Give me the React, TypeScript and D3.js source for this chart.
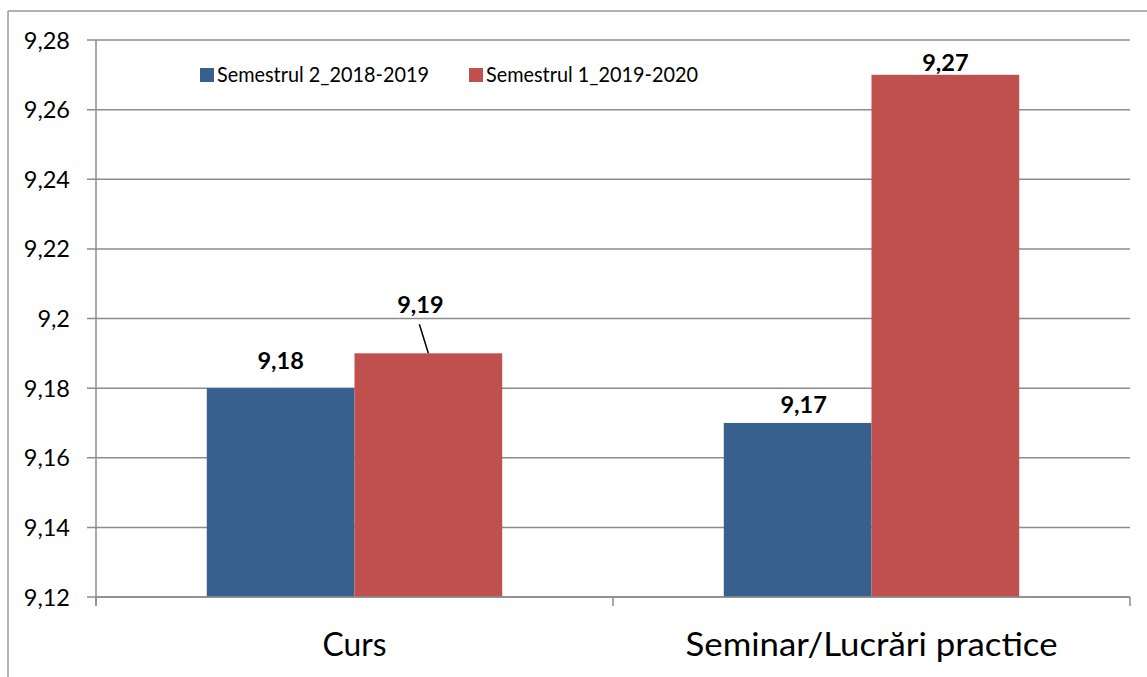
import React from "react";
import * as d3 from "d3";

const categories = ["Curs", "Seminar/Lucrări practice"];
const seriesNames = ["Semestrul 2_2018-2019", "Semestrul 1_2019-2020"];
const series1 = [9.18, 9.17];
const series2 = [9.19, 9.27];
const yTicks = [9.12, 9.14, 9.16, 9.18, 9.2, 9.22, 9.24, 9.26, 9.28];
const colors = ["#37608F", "#C0504D"];

const W = 1147;
const H = 677;
const left = 96;
const right = 1130;
const top = 40;
const bottom = 597;
const FONT = "Lato, 'Noto Sans', sans-serif";

const fmt = (v: number) => String(+v.toFixed(2)).replace(".", ",");

export default function App() {
  const y = d3.scaleLinear().domain([9.12, 9.28]).range([bottom, top]);
  const x0 = d3.scaleBand<string>().domain(categories).range([left, right]).paddingInner(0).paddingOuter(0);
  const bw = x0.bandwidth();
  const barW = bw / 3.5;
  const x1 = d3
    .scaleBand<number>()
    .domain([0, 1])
    .range([bw / 2 - barW, bw / 2 + barW]);
  const values = [series1, series2];
  // label layout offsets (pixels above bar top), per series/category
  const labelGap = [
    [19, 10],
    [40, 4],
  ];

  return (
    <svg
      width={W}
      height={H}
      style={{ position: "absolute", left: 0, top: 0, background: "#fff" }}
      fontFamily={FONT}
    >
      <rect x={0} y={0} width={W} height={H} fill="#fff" />
      {/* outer frame */}
      <line x1={8} y1={11} x2={W} y2={11} stroke="#9a9a9a" strokeWidth={1.5} />
      <line x1={8} y1={11} x2={8} y2={H} stroke="#9a9a9a" strokeWidth={1.5} />

      {/* gridlines and y ticks */}
      {yTicks.map((t) => (
        <g key={t}>
          <line x1={left - 9} x2={right} y1={y(t)} y2={y(t)} stroke="#8c8c8c" strokeWidth={1.5} />
          <text x={70} y={y(t) + 8.5} textAnchor="end" fontSize={23.5} fill="#000">
            {fmt(t)}
          </text>
        </g>
      ))}
      {/* y axis */}
      <line x1={left} x2={left} y1={top} y2={bottom + 9} stroke="#8c8c8c" strokeWidth={1.5} />

      {/* bars */}
      {categories.map((c, ci) =>
        values.map((vals, si) => {
          const xb = (x0(c) as number) + (x1(si) as number);
          return (
            <rect
              key={c + si}
              x={xb}
              y={y(vals[ci])}
              width={x1.bandwidth()}
              height={bottom - y(vals[ci])}
              fill={colors[si]}
            />
          );
        })
      )}

      {/* x axis */}
      <line x1={left} x2={right} y1={bottom} y2={bottom} stroke="#8c8c8c" strokeWidth={1.5} />
      {[...categories.map((c) => x0(c) as number), right].map((tx, i) => (
        <line key={i} x1={tx} x2={tx} y1={bottom} y2={bottom + 9} stroke="#8c8c8c" strokeWidth={1.5} />
      ))}

      {/* data labels */}
      {categories.map((c, ci) =>
        values.map((vals, si) => {
          const cx = (x0(c) as number) + (x1(si) as number) + x1.bandwidth() / 2;
          const by = y(vals[ci]);
          const lx = ci === 0 && si === 1 ? cx - 8 : cx + (ci === 1 && si === 0 ? 6 : 0);
          return (
            <g key={"l" + c + si}>
              <text
                x={lx}
                y={by - labelGap[si][ci]}
                textAnchor="middle"
                fontSize={23.5}
                fontWeight="bold"
                fill="#000"
              >
                {fmt(vals[ci])}
              </text>
              {ci === 0 && si === 1 && (
                <line x1={lx - 1} y1={by - 29} x2={cx} y2={by} stroke="#000" strokeWidth={1.5} />
              )}
            </g>
          );
        })
      )}

      {/* category labels */}
      {categories.map((c, i) => (
        <text
          key={c}
          x={(x0(c) as number) + bw / 2}
          y={656}
          textAnchor="middle"
          fontSize={33}
          fill="#000"
          textLength={i === 0 ? 64 : 372}
          lengthAdjust="spacingAndGlyphs"
        >
          {c}
        </text>
      ))}

      {/* legend */}
      {seriesNames.map((s, i) => {
        const lx = [200, 469][i];
        return (
          <g key={s}>
            <rect x={lx} y={68} width={14} height={14} fill={colors[i]} />
            <text
              x={lx + 17}
              y={82}
              fontSize={21}
              fill="#000"
              textLength={212}
              lengthAdjust="spacingAndGlyphs"
            >
              {s}
            </text>
          </g>
        );
      })}
    </svg>
  );
}
